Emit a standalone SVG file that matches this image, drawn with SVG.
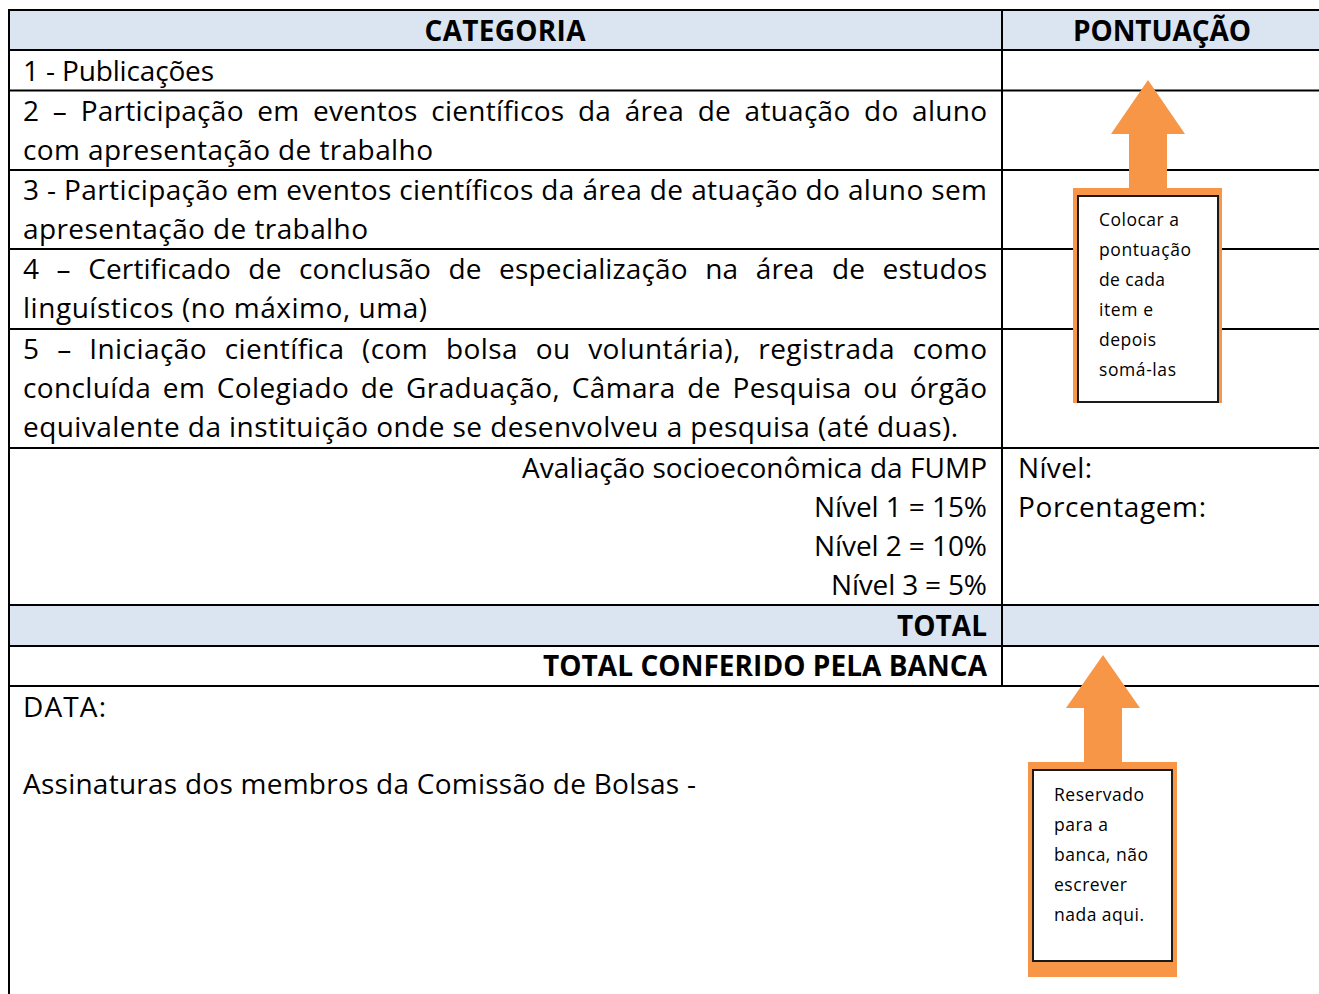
<svg xmlns="http://www.w3.org/2000/svg" width="1319" height="994" viewBox="0 0 1319 994">
<style>
.t{font-family:"Open Sans","Liberation Sans",sans-serif;font-size:28px;fill:#000}
.b{font-family:"Open Sans","Liberation Sans",sans-serif;font-size:28px;font-weight:bold;fill:#000}
.s{font-family:"Open Sans","Liberation Sans",sans-serif;font-size:17.5px;fill:#000}
.ln{stroke:#000;stroke-width:2;fill:none}
.hdr{fill:#dbe5f1}
.or{fill:#f79646}
.box{fill:#fff;stroke:#1a1a1a;stroke-width:2}
</style>
<rect width="1319" height="994" fill="#fff"/>
<g id="table">
<rect class="hdr" x="9" y="10" width="1310" height="40"/>
<rect class="hdr" x="9" y="605" width="1310" height="41"/>
<path class="ln" d="M9,10 H1319 M9,50 H1319 M9,90.5 H1319 M9,170 H1319 M9,249 H1319 M9,329 H1319 M9,448 H1319 M9,605 H1319 M9,646 H1319 M9,686 H1319 M9,9 V994 M1002,10 V686"/>
<text class="b" x="505" y="41" text-anchor="middle" textLength="161" lengthAdjust="spacing">CATEGORIA</text>
<text class="b" x="1162" y="41" text-anchor="middle" textLength="178" lengthAdjust="spacing">PONTUAÇÃO</text>
<text class="t" x="23" y="81" textLength="191" lengthAdjust="spacing">1 - Publicações</text>
<text class="t" x="23" y="121" textLength="964" lengthAdjust="spacing" word-spacing="6">2 – Participação em eventos científicos da área de atuação do aluno</text>
<text class="t" x="23" y="160" textLength="410" lengthAdjust="spacing">com apresentação de trabalho</text>
<text class="t" x="23" y="200" textLength="964" lengthAdjust="spacing">3 - Participação em eventos científicos da área de atuação do aluno sem</text>
<text class="t" x="23" y="239" textLength="345" lengthAdjust="spacing">apresentação de trabalho</text>
<text class="t" x="23" y="279" textLength="964" lengthAdjust="spacing" word-spacing="10">4 – Certificado de conclusão de especialização na área de estudos</text>
<text class="t" x="23" y="318" textLength="404" lengthAdjust="spacing">linguísticos (no máximo, uma)</text>
<text class="t" x="23" y="359" textLength="964" lengthAdjust="spacing" word-spacing="10">5 – Iniciação científica (com bolsa ou voluntária), registrada como</text>
<text class="t" x="23" y="398" textLength="964" lengthAdjust="spacing" word-spacing="4">concluída em Colegiado de Graduação, Câmara de Pesquisa ou órgão</text>
<text class="t" x="23" y="437" textLength="935" lengthAdjust="spacing">equivalente da instituição onde se desenvolveu a pesquisa (até duas).</text>
<text class="t" x="987" y="478" text-anchor="end" textLength="465" lengthAdjust="spacing">Avaliação socioeconômica da FUMP</text>
<text class="t" x="987" y="517" text-anchor="end" textLength="173" lengthAdjust="spacing">Nível 1 = 15%</text>
<text class="t" x="987" y="556" text-anchor="end" textLength="173" lengthAdjust="spacing">Nível 2 = 10%</text>
<text class="t" x="987" y="595" text-anchor="end" textLength="156" lengthAdjust="spacing">Nível 3 = 5%</text>
<text class="t" x="1018" y="478" textLength="74" lengthAdjust="spacing">Nível:</text>
<text class="t" x="1018" y="517" textLength="188" lengthAdjust="spacing">Porcentagem:</text>
<text class="b" x="987" y="636" text-anchor="end" textLength="90" lengthAdjust="spacing">TOTAL</text>
<text class="b" x="987" y="676" text-anchor="end" textLength="444" lengthAdjust="spacing">TOTAL CONFERIDO PELA BANCA</text>
<text class="t" x="23" y="717" textLength="83" lengthAdjust="spacing">DATA:</text>
<text class="t" x="23" y="794" textLength="673" lengthAdjust="spacing">Assinaturas dos membros da Comissão de Bolsas -</text>
</g>
<g id="callout-top">
<polygon class="or" points="1148,80 1185,134 1167,134 1167,190 1129,190 1129,134 1111,134"/>
<rect class="or" x="1073" y="188" width="149" height="215"/>
<rect class="box" x="1078" y="196" width="140" height="206"/>
<text class="s" x="1099" y="226" textLength="80" lengthAdjust="spacing">Colocar a</text>
<text class="s" x="1099" y="256" textLength="92" lengthAdjust="spacing">pontuação</text>
<text class="s" x="1099" y="286" textLength="66" lengthAdjust="spacing">de cada</text>
<text class="s" x="1099" y="316" textLength="54" lengthAdjust="spacing">item e</text>
<text class="s" x="1099" y="346" textLength="57" lengthAdjust="spacing">depois</text>
<text class="s" x="1099" y="376" textLength="77" lengthAdjust="spacing">somá-las</text>
</g>
<g id="callout-bottom">
<polygon class="or" points="1103,655 1140,708 1122,708 1122,764 1084,764 1084,708 1066,708"/>
<rect class="or" x="1028" y="762" width="149" height="215"/>
<rect class="box" x="1033" y="770" width="139" height="191"/>
<text class="s" x="1054" y="801" textLength="90" lengthAdjust="spacing">Reservado</text>
<text class="s" x="1054" y="831" textLength="54" lengthAdjust="spacing">para a</text>
<text class="s" x="1054" y="861" textLength="94" lengthAdjust="spacing">banca, não</text>
<text class="s" x="1054" y="891" textLength="73" lengthAdjust="spacing">escrever</text>
<text class="s" x="1054" y="921" textLength="90" lengthAdjust="spacing">nada aqui.</text>
</g>
</svg>
